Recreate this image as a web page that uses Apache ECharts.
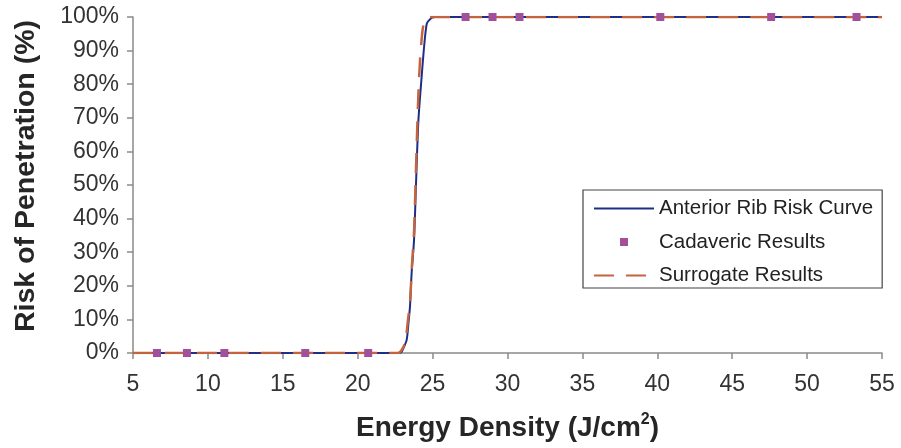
<!DOCTYPE html>
<html>
<head>
<meta charset="utf-8">
<script src="https://cdn.jsdelivr.net/npm/echarts@6/dist/echarts.min.js"></script>
<style>
  html, body { margin: 0; padding: 0; background: #ffffff; }
  #chart { width: 901px; height: 448px; }
</style>
</head>
<body>
<div id="chart"></div>
<script>
// Energy density (J/cm^2) vs. risk of penetration (%)
const xTicks = [5, 10, 15, 20, 25, 30, 35, 40, 45, 50, 55];
const yTicks = [0, 10, 20, 30, 40, 50, 60, 70, 80, 90, 100];

// Anterior rib risk curve
const riskX = [5, 22.82, 22.94, 23.09, 23.27, 23.39, 23.49, 23.60, 23.76, 23.89, 24.05, 24.23, 24.45, 24.61, 24.76, 24.96, 25.16, 55];
const riskY = [0, 0, 0.4, 1.8, 3.9, 9, 13.8, 23.8, 33.6, 50, 69, 80, 92, 98, 99, 99.8, 100, 100];

// Surrogate results curve
const surrX = [5, 22.69, 22.89, 23.16, 23.36, 23.49, 23.62, 23.76, 23.86, 23.96, 24.06, 24.16, 24.26, 24.36, 24.49, 24.69, 55];
const surrY = [0, 0, 0.6, 3, 10, 15, 26, 36, 50, 65, 78, 87, 93, 97, 99, 100, 100];

// Cadaveric test results
const cadX = [6.6, 8.6, 11.1, 16.5, 20.7, 27.2, 29.0, 30.8, 40.2, 47.6, 53.3];
const cadY = [0, 0, 0, 0, 0, 100, 100, 100, 100, 100, 100];

const zip = (xs, ys) => xs.map((x, i) => [x, ys[i]]);

const chart = echarts.init(document.getElementById('chart'), null, { renderer: 'canvas' });
const font = '"Liberation Sans", Arial, Helvetica, sans-serif';
const axisColor = '#8a8a8a';
const blue = '#1f2f86';
const orange = '#c4643f';
const purple = '#a2509b';

chart.setOption({
  backgroundColor: '#ffffff',
  animation: false,
  grid: { left: 133, right: 19, top: 17, bottom: 95, containLabel: false },
  xAxis: {
    type: 'value',
    min: xTicks[0],
    max: xTicks[xTicks.length - 1],
    interval: 5,
    name: '{t|Energy Density (J/cm}{s|2}{t|)}',
    nameLocation: 'middle',
    nameGap: 59,
    nameTextStyle: {
      rich: {
        t: { fontFamily: font, fontWeight: 'bold', fontSize: 28, color: '#262626', lineHeight: 32 },
        s: { fontFamily: font, fontWeight: 'bold', fontSize: 16, color: '#262626', verticalAlign: 'top', lineHeight: 32, padding: [0, 0, 14, 0] }
      }
    },
    axisLine: { show: true, lineStyle: { color: axisColor, width: 1.5 } },
    axisTick: { show: true, length: 6, inside: false, lineStyle: { color: axisColor, width: 1.5 } },
    axisLabel: { fontFamily: font, fontSize: 23, color: '#333333', margin: 20 },
    splitLine: { show: false }
  },
  yAxis: {
    type: 'value',
    min: yTicks[0],
    max: yTicks[yTicks.length - 1],
    interval: 10,
    name: 'Risk of Penetration (%)',
    nameLocation: 'middle',
    nameGap: 92,
    nameTextStyle: { fontFamily: font, fontWeight: 'bold', fontSize: 28.5, color: '#262626', padding: [0, 0, 0, 18] },
    axisLine: { show: true, lineStyle: { color: axisColor, width: 1.5 } },
    axisTick: { show: true, length: 6, inside: false, lineStyle: { color: axisColor, width: 1.5 } },
    axisLabel: { fontFamily: font, fontSize: 23, color: '#333333', margin: 14, formatter: '{value}%' },
    splitLine: { show: false }
  },
  legend: {
    orient: 'vertical',
    left: 583,
    top: 190,
    padding: [8, 9, 2, 10],
    backgroundColor: '#ffffff',
    borderColor: '#444444',
    borderWidth: 1.2,
    itemWidth: 60,
    itemHeight: 8,
    itemGap: 12.5,
    symbolKeepAspect: true,
    textStyle: { fontFamily: font, fontSize: 20.5, color: '#222222', lineHeight: 20 },
    data: [
      { name: 'Anterior Rib Risk Curve', itemStyle: { opacity: 0 } },
      { name: 'Cadaveric Results', icon: 'path://M0,0L1,0L1,1L0,1Z', itemStyle: { color: purple } },
      { name: 'Surrogate Results', itemStyle: { opacity: 0 } }
    ]
  },
  series: [
    {
      name: 'Anterior Rib Risk Curve',
      type: 'line',
      data: zip(riskX, riskY),
      symbol: 'none',
      smooth: 0.3,
      lineStyle: { color: blue, width: 2 },
      itemStyle: { color: blue },
      z: 2
    },
    {
      name: 'Surrogate Results',
      type: 'line',
      data: zip(surrX, surrY),
      symbol: 'none',
      smooth: 0.3,
      lineStyle: { color: orange, width: 2.5, type: [20, 12] },
      itemStyle: { color: orange },
      z: 3
    },
    {
      name: 'Cadaveric Results',
      type: 'scatter',
      data: zip(cadX, cadY),
      symbol: 'rect',
      symbolSize: 8,
      itemStyle: { color: purple, opacity: 1 },
      z: 4
    }
  ]
});
</script>
</body>
</html>
